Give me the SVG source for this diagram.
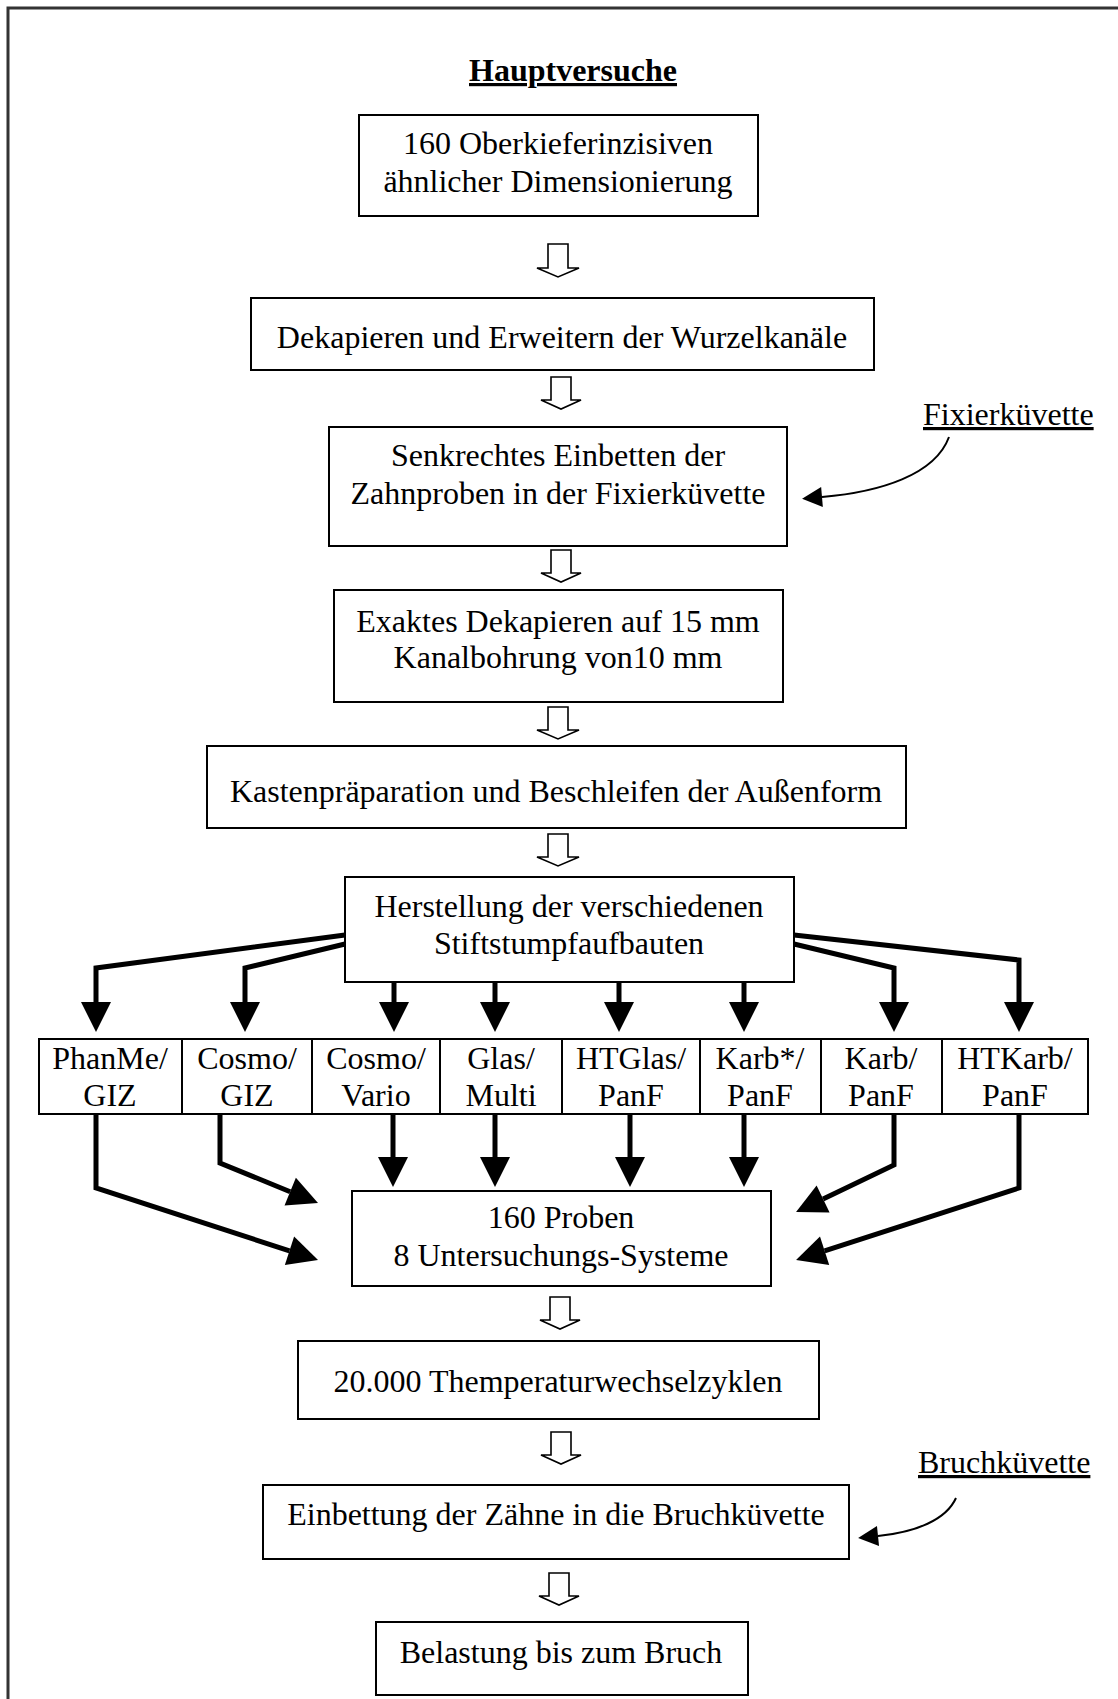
<svg xmlns="http://www.w3.org/2000/svg" width="1118" height="1699" viewBox="0 0 1118 1699">
<style>
  .box { fill: #fff; stroke: #000; stroke-width: 2; }
  .t { font-family: "Liberation Serif", "Times New Roman", serif; font-size: 32px; fill: #000; text-anchor: middle; }
  .lbl { font-family: "Liberation Serif", "Times New Roman", serif; font-size: 32px; fill: #000; text-decoration: underline; }
  .title { font-family: "Liberation Serif", "Times New Roman", serif; font-size: 32px; font-weight: bold; fill: #000; text-anchor: middle; text-decoration: underline; }
  .hollow { fill: #fff; stroke: #000; stroke-width: 1.6; stroke-linejoin: miter; }
  .thick { fill: none; stroke: #000; stroke-width: 5; stroke-linejoin: miter; marker-end: url(#big); }
  .thin { fill: none; stroke: #000; stroke-width: 2; marker-end: url(#small); }
  .frame { fill: none; stroke: #333; stroke-width: 3; }
</style>
<defs>
  <marker id="big" markerUnits="userSpaceOnUse" viewBox="0 -16 31 32" markerWidth="31" markerHeight="32" refX="0" refY="0" orient="auto" overflow="visible">
    <path d="M0,-15 L30,0 L0,15 Z" fill="#000"/>
  </marker>
  <marker id="small" markerUnits="userSpaceOnUse" viewBox="0 -11 21 22" markerWidth="21" markerHeight="22" refX="0" refY="0" orient="auto" overflow="visible">
    <path d="M0,-10 L20,0 L0,10 Z" fill="#000"/>
  </marker>
</defs>
<rect width="1118" height="1699" fill="#fff"/>
<path class="frame" d="M8,1699 V8 H1118"/>

<text class="title" x="573" y="81">Hauptversuche</text>

<g id="n1"><rect class="box" x="359" y="115" width="399" height="101"/>
<text class="t" x="558" y="154">160 Oberkieferinzisiven</text>
<text class="t" x="558" y="192">ähnlicher Dimensionierung</text></g>

<g id="n2"><rect class="box" x="251" y="298" width="623" height="72"/>
<text class="t" x="562" y="348">Dekapieren und Erweitern der Wurzelkanäle</text></g>

<g id="n3"><rect class="box" x="329" y="427" width="458" height="119"/>
<text class="t" x="558" y="466">Senkrechtes Einbetten der</text>
<text class="t" x="558" y="504">Zahnproben in der Fixierküvette</text></g>

<g id="n4"><rect class="box" x="334" y="590" width="449" height="112"/>
<text class="t" x="558" y="632">Exaktes Dekapieren auf 15 mm</text>
<text class="t" x="558" y="668">Kanalbohrung von10 mm</text></g>

<g id="n5"><rect class="box" x="207" y="746" width="699" height="82"/>
<text class="t" x="556" y="802">Kastenpräparation und Beschleifen der Außenform</text></g>

<g id="n6"><rect class="box" x="345" y="877" width="449" height="105"/>
<text class="t" x="569" y="917">Herstellung der verschiedenen</text>
<text class="t" x="569" y="954">Stiftstumpfaufbauten</text></g>

<g id="row">
<g id="c1"><rect class="box" x="39" y="1039" width="143" height="75"/><text class="t" x="110" y="1069">PhanMe/</text><text class="t" x="110" y="1106">GIZ</text></g>
<g id="c2"><rect class="box" x="182" y="1039" width="130" height="75"/><text class="t" x="247" y="1069">Cosmo/</text><text class="t" x="247" y="1106">GIZ</text></g>
<g id="c3"><rect class="box" x="312" y="1039" width="128" height="75"/><text class="t" x="376" y="1069">Cosmo/</text><text class="t" x="376" y="1106">Vario</text></g>
<g id="c4"><rect class="box" x="440" y="1039" width="122" height="75"/><text class="t" x="501" y="1069">Glas/</text><text class="t" x="501" y="1106">Multi</text></g>
<g id="c5"><rect class="box" x="562" y="1039" width="138" height="75"/><text class="t" x="631" y="1069">HTGlas/</text><text class="t" x="631" y="1106">PanF</text></g>
<g id="c6"><rect class="box" x="700" y="1039" width="121" height="75"/><text class="t" x="760" y="1069">Karb*/</text><text class="t" x="760" y="1106">PanF</text></g>
<g id="c7"><rect class="box" x="821" y="1039" width="121" height="75"/><text class="t" x="881" y="1069">Karb/</text><text class="t" x="881" y="1106">PanF</text></g>
<g id="c8"><rect class="box" x="942" y="1039" width="146" height="75"/><text class="t" x="1015" y="1069">HTKarb/</text><text class="t" x="1015" y="1106">PanF</text></g>
</g>

<g id="n7"><rect class="box" x="352" y="1191" width="419" height="95"/>
<text class="t" x="561" y="1228">160 Proben</text>
<text class="t" x="561" y="1266">8 Untersuchungs-Systeme</text></g>

<g id="n8"><rect class="box" x="298" y="1341" width="521" height="78"/>
<text class="t" x="558" y="1392">20.000 Themperaturwechselzyklen</text></g>

<g id="n9"><rect class="box" x="263" y="1485" width="586" height="74"/>
<text class="t" x="556" y="1525">Einbettung der Zähne in die Bruchküvette</text></g>

<g id="n10"><rect class="box" x="376" y="1622" width="372" height="73"/>
<text class="t" x="561" y="1663">Belastung bis zum Bruch</text></g>

<g id="labels">
<text class="lbl" x="923" y="425">Fixierküvette</text>
<text class="lbl" x="918" y="1473">Bruchküvette</text>
</g>

<g id="connectors">
  <!-- hollow arrows -->
  <path class="hollow" d="M548,244 H568 V268 H579 L558,277 L537,268 H548 Z"/>
  <path class="hollow" d="M551,377 H571 V400 H581 L561,409 L541,400 H551 Z"/>
  <path class="hollow" d="M551,550 H571 V573 H581 L561,582 L541,573 H551 Z"/>
  <path class="hollow" d="M548,707 H568 V730 H579 L558,739 L537,730 H548 Z"/>
  <path class="hollow" d="M548,834 H568 V857 H579 L558,866 L537,857 H548 Z"/>
  <path class="hollow" d="M550,1297 H570 V1320 H580 L560,1329 L540,1320 H550 Z"/>
  <path class="hollow" d="M551,1432 H571 V1455 H581 L561,1464 L541,1455 H551 Z"/>
  <path class="hollow" d="M549,1573 H569 V1596 H579 L559,1605 L539,1596 H549 Z"/>
  <!-- curved annotation arrows -->
  <path class="thin" d="M949,437 C935,475 880,492 822,497"/>
  <path class="thin" d="M956,1498 C946,1520 916,1532 878,1536"/>
  <!-- distribution arrows -->
  <path class="thick" d="M345,935 L96,968 L96,1002"/>
  <path class="thick" d="M345,944 L245,968 L245,1002"/>
  <path class="thick" d="M394,982 V1002"/>
  <path class="thick" d="M495,982 V1002"/>
  <path class="thick" d="M619,982 V1002"/>
  <path class="thick" d="M744,982 V1002"/>
  <path class="thick" d="M794,944 L894,968 L894,1002"/>
  <path class="thick" d="M794,935 L1019,960 L1019,1002"/>
  <!-- collection arrows -->
  <path class="thick" d="M96,1114 V1188 L289.5,1250.8"/>
  <path class="thick" d="M220,1114 V1163 L290.2,1191.7"/>
  <path class="thick" d="M393,1114 V1157"/>
  <path class="thick" d="M495,1114 V1157"/>
  <path class="thick" d="M630,1114 V1157"/>
  <path class="thick" d="M744,1114 V1157"/>
  <path class="thick" d="M894,1114 V1165 L823.1,1199"/>
  <path class="thick" d="M1019,1114 V1188 L824.6,1250.8"/>
</g>
</svg>
